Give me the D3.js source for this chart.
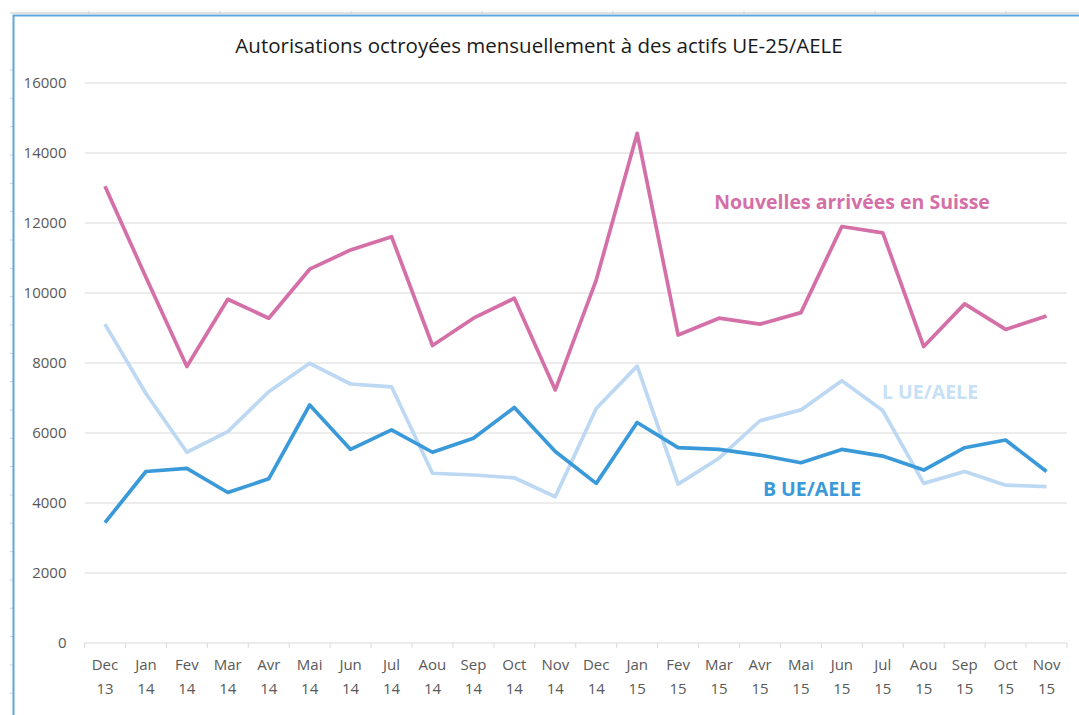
<!DOCTYPE html>
<html>
<head>
<meta charset="utf-8">
<script src="https://cdn.jsdelivr.net/npm/d3@7"></script>
<style>
  body { margin: 0; background: #fff; }
  svg { display: block; font-family: "Open Sans", sans-serif; }
</style>
</head>
<body>
<div id="chart"></div>
<script>
// Categories (month / year, shown on two lines)
const months = ["Dec 13", "Jan 14", "Fev 14", "Mar 14", "Avr 14", "Mai 14", "Jun 14", "Jul 14",
  "Aou 14", "Sep 14", "Oct 14", "Nov 14", "Dec 14", "Jan 15", "Fev 15", "Mar 15", "Avr 15",
  "Mai 15", "Jun 15", "Jul 15", "Aou 15", "Sep 15", "Oct 15", "Nov 15"];

// Series values
const nouvelles = [13050, 10450, 7900, 9820, 9280, 10680, 11230, 11610, 8500, 9280, 9850, 7230,
  10370, 14560, 8800, 9280, 9110, 9440, 11900, 11720, 8470, 9690, 8960, 9340];
const lUE = [9110, 7130, 5450, 6040, 7180, 7990, 7400, 7320, 4850, 4800, 4720, 4180,
  6700, 7910, 4540, 5280, 6350, 6660, 7490, 6640, 4560, 4900, 4510, 4470];
const bUE = [3440, 4900, 4990, 4300, 4690, 6800, 5530, 6090, 5450, 5850, 6730, 5470,
  4560, 6300, 5580, 5530, 5370, 5150, 5530, 5340, 4940, 5580, 5800, 4900];

const yTicks = [0, 2000, 4000, 6000, 8000, 10000, 12000, 14000, 16000];

const W = 1079, H = 715;
const plot = { left: 84.5, right: 1067, top: 83, bottom: 643 };

const svg = d3.select("#chart").append("svg")
  .attr("width", W)
  .attr("height", H);

// Window frame (cropped from the spreadsheet)
svg.append("line")
  .attr("x1", 10).attr("x2", W).attr("y1", 13).attr("y2", 13)
  .attr("stroke", "#d9d9d9").attr("stroke-width", 1.5);
svg.selectAll(".rtick")
  .data(d3.range(89, W, 131))
  .enter().append("line")
  .attr("x1", d => d).attr("x2", d => d)
  .attr("y1", 11).attr("y2", 14)
  .attr("stroke", "#cfcfcf");
svg.selectAll(".ltick")
  .data(d3.range(70, H, 28.33))
  .enter().append("line")
  .attr("x1", 10).attr("x2", 13)
  .attr("y1", d => d).attr("y2", d => d)
  .attr("stroke", "#cfcfcf");
svg.append("path")
  .attr("d", `M13.5,${H} V15.5 H${W}`)
  .attr("fill", "none")
  .attr("stroke", "#5ea7de")
  .attr("stroke-width", 2);

// Scales
const x = d3.scaleBand()
  .domain(months)
  .range([plot.left, plot.right])
  .padding(0);
const y = d3.scaleLinear()
  .domain([0, 16000])
  .range([plot.bottom, plot.top]);
const cx = d => x(d) + x.bandwidth() / 2;

// Title
svg.append("text")
  .attr("x", 539)
  .attr("y", 53)
  .attr("text-anchor", "middle")
  .attr("fill", "#1a1a1a")
  .style("font-size", "20.5px")
  .text("Autorisations octroyées mensuellement à des actifs UE-25/AELE");

// Gridlines
svg.append("g")
  .selectAll("line")
  .data(yTicks.filter(d => d > 0))
  .enter().append("line")
  .attr("x1", plot.left).attr("x2", plot.right)
  .attr("y1", d => y(d)).attr("y2", d => y(d))
  .attr("stroke", "#d9d9d9")
  .attr("stroke-width", 1);

// Y axis labels
const yAxis = d3.axisLeft(y)
  .tickValues(yTicks)
  .tickFormat(d3.format("d"))
  .tickSize(0)
  .tickPadding(18);
svg.append("g")
  .attr("transform", `translate(${plot.left},0)`)
  .call(yAxis)
  .call(g => g.select(".domain").remove())
  .call(g => g.selectAll("text")
    .attr("fill", "#595959")
    .style("font-size", "15px")
    .style("font-family", "'Open Sans', sans-serif"));

// X axis: line, ticks between categories, two-line labels
const xg = svg.append("g");
xg.append("line")
  .attr("x1", plot.left).attr("x2", plot.right)
  .attr("y1", plot.bottom).attr("y2", plot.bottom)
  .attr("stroke", "#d9d9d9");
xg.selectAll(".xtick")
  .data(months.map(m => x(m)).concat([plot.right]))
  .enter().append("line")
  .attr("x1", d => d).attr("x2", d => d)
  .attr("y1", plot.bottom).attr("y2", plot.bottom + 5)
  .attr("stroke", "#d9d9d9");
const xl = xg.selectAll(".xlabel")
  .data(months)
  .enter().append("text")
  .attr("text-anchor", "middle")
  .attr("fill", "#595959")
  .style("font-size", "15px");
xl.append("tspan")
  .attr("x", d => cx(d))
  .attr("y", 670)
  .text(d => d.split(" ")[0]);
xl.append("tspan")
  .attr("x", d => cx(d))
  .attr("y", 694)
  .text(d => d.split(" ")[1]);

// Lines
const series = [
  { name: "L UE/AELE", values: lUE, color: "#bdd8f2" },
  { name: "B UE/AELE", values: bUE, color: "#3a9ad9" },
  { name: "Nouvelles arrivées en Suisse", values: nouvelles, color: "#d46fa7" }
];
const line = d3.line()
  .x((d, i) => cx(months[i]))
  .y(d => y(d));
svg.selectAll(".serie")
  .data(series)
  .enter().append("path")
  .attr("d", d => line(d.values))
  .attr("fill", "none")
  .attr("stroke", d => d.color)
  .attr("stroke-width", 3.7)
  .attr("stroke-linejoin", "round");

// Series labels
const labels = [
  { text: "Nouvelles arrivées en Suisse", x: 852, y: 209, color: "#d46fa7" },
  { text: "L UE/AELE", x: 930, y: 399, color: "#c6e0f6" },
  { text: "B UE/AELE", x: 812, y: 496, color: "#3a9ad9" }
];
svg.selectAll(".slabel")
  .data(labels)
  .enter().append("text")
  .attr("x", d => d.x)
  .attr("y", d => d.y)
  .attr("text-anchor", "middle")
  .attr("fill", d => d.color)
  .style("font-size", "19.5px")
  .style("font-weight", "bold")
  .text(d => d.text);
</script>
</body>
</html>
